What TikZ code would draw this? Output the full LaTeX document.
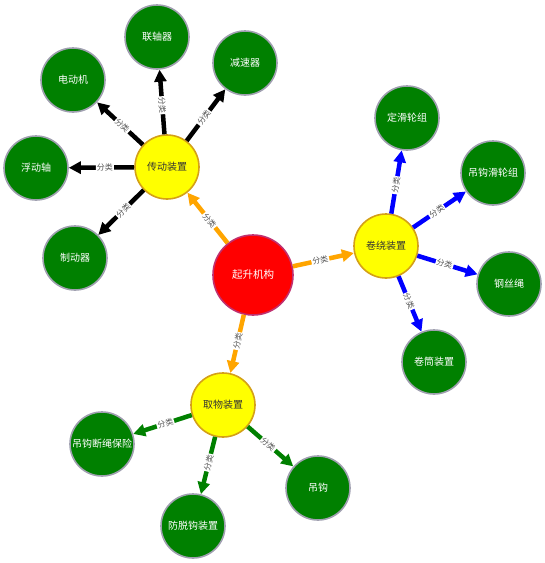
\documentclass[tikz,border=0pt]{standalone}
\usepackage{fontspec}
\newfontfamily\cjk{Noto Sans CJK SC}
\usetikzlibrary{arrows.meta}
\definecolor{leaf}{HTML}{008000}
\definecolor{leafborder}{HTML}{A0A0B0}
\definecolor{hub}{HTML}{FFFF00}
\definecolor{hubborder}{HTML}{D4A017}
\definecolor{rootfill}{HTML}{FF0000}
\definecolor{rootborder}{HTML}{C0306F}
\definecolor{edgeorange}{HTML}{FFA500}
\definecolor{edgeblue}{HTML}{0000FF}
\definecolor{labelgray}{HTML}{555555}
\tikzset{
  leafnode/.style={circle, draw=leafborder, fill=leaf, line width=1.6pt, minimum size=64pt, inner sep=0pt, text=white, font=\cjk\fontsize{10}{12}\selectfont},
  hubnode/.style={circle, draw=hubborder, fill=hub, line width=1.6pt, minimum size=64pt, inner sep=0pt, text=black!80, font=\cjk\fontsize{10}{12}\selectfont},
  rootnode/.style={circle, draw=rootborder, fill=rootfill, line width=1.6pt, minimum size=80pt, inner sep=0pt, text=white, font=\cjk\fontsize{10.5}{12}\selectfont},
  rel/.style={line width=4.5pt, -{Triangle[length=12pt,width=12pt]}},
  lbl/.style={pos=0.45, sloped, fill=white, inner sep=1pt, text=labelgray, font=\cjk\fontsize{8}{9}\selectfont}
}
\begin{document}
\begin{tikzpicture}[x=1pt,y=-1pt]
\useasboundingbox (0,0) rectangle (545,563);
\node[rootnode] (root) at (253,275) {起升机构};
\node[hubnode] (cd) at (167,167) {传动装置};
\node[hubnode] (jr) at (386,246) {卷绕装置};
\node[hubnode] (qw) at (223,405) {取物装置};

\node[leafnode] (lzq) at (157,37) {联轴器};
\node[leafnode] (jsq) at (245,63) {减速器};
\node[leafnode] (ddj) at (73,80) {电动机};
\node[leafnode] (fdz) at (36,168) {浮动轴};
\node[leafnode] (zdq) at (75,258) {制动器};

\node[leafnode] (dhl) at (407,118) {定滑轮组};
\node[leafnode] (dghl) at (493,173) {吊钩滑轮组};
\node[leafnode] (gss) at (509,284) {钢丝绳};
\node[leafnode] (jtzz) at (434,362) {卷筒装置};

\node[leafnode] (dgds) at (102,444) {吊钩断绳保险};
\node[leafnode] (ftg) at (193,526) {防脱钩装置};
\node[leafnode] (dg) at (318,488) {吊钩};

\draw[rel, edgeorange] (root) -- node[lbl] {分类} (cd);
\draw[rel, edgeorange] (root) -- node[lbl] {分类} (jr);
\draw[rel, edgeorange] (root) -- node[lbl] {分类} (qw);

\draw[rel, black] (cd) -- node[lbl] {分类} (lzq);
\draw[rel, black] (cd) -- node[lbl] {分类} (jsq);
\draw[rel, black] (cd) -- node[lbl] {分类} (ddj);
\draw[rel, black] (cd) -- node[lbl] {分类} (fdz);
\draw[rel, black] (cd) -- node[lbl] {分类} (zdq);

\draw[rel, edgeblue] (jr) -- node[lbl] {分类} (dhl);
\draw[rel, edgeblue] (jr) -- node[lbl] {分类} (dghl);
\draw[rel, edgeblue] (jr) -- node[lbl] {分类} (gss);
\draw[rel, edgeblue] (jr) -- node[lbl] {分类} (jtzz);

\draw[rel, leaf] (qw) -- node[lbl] {分类} (dgds);
\draw[rel, leaf] (qw) -- node[lbl] {分类} (ftg);
\draw[rel, leaf] (qw) -- node[lbl] {分类} (dg);
\end{tikzpicture}
\end{document}
